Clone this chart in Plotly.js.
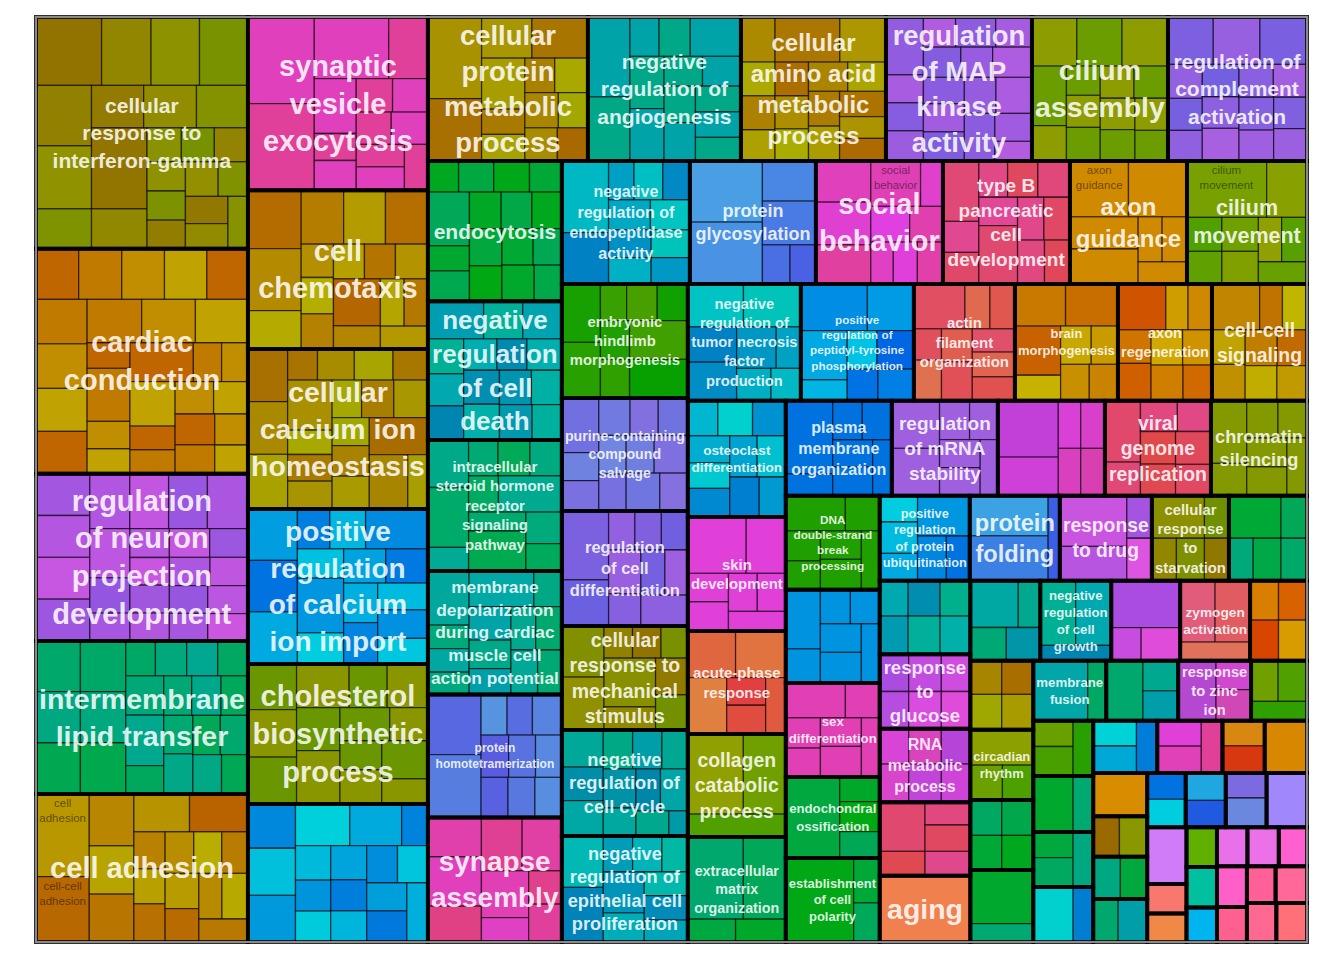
<!DOCTYPE html>
<html>
<head>
<meta charset="utf-8">
<script src="https://cdn.plot.ly/plotly-3.0.1.min.js"></script>
<style>html,body{margin:0;padding:0;background:#fff}#chart{width:1344px;height:960px}</style>
</head>
<body>
<div id="chart"></div>
<script>
// ---------- DATA ----------
const parentTerms = [
"cellular<br>response to<br>interferon-gamma","cardiac<br>conduction","regulation<br>of neuron<br>projection<br>development","intermembrane<br>lipid transfer","cell adhesion",
"synaptic<br>vesicle<br>exocytosis","cell<br>chemotaxis","cellular<br>calcium ion<br>homeostasis","positive<br>regulation<br>of calcium<br>ion import","cholesterol<br>biosynthetic<br>process","",
"cellular<br>protein<br>metabolic<br>process","negative<br>regulation of<br>angiogenesis","cellular<br>amino acid<br>metabolic<br>process","regulation<br>of MAP<br>kinase<br>activity","cilium<br>assembly","regulation of<br>complement<br>activation",
"endocytosis","negative<br>regulation<br>of cell<br>death","intracellular<br>steroid hormone<br>receptor<br>signaling<br>pathway","membrane<br>depolarization<br>during cardiac<br>muscle cell<br>action potential","protein<br>homotetramerization","synapse<br>assembly",
"negative<br>regulation of<br>endopeptidase<br>activity","protein<br>glycosylation","social<br>behavior","type B<br>pancreatic<br>cell<br>development","axon<br>guidance","cilium<br>movement",
"embryonic<br>hindlimb<br>morphogenesis","purine-containing<br>compound<br>salvage","regulation<br>of cell<br>differentiation","cellular<br>response to<br>mechanical<br>stimulus","negative<br>regulation of<br>cell cycle","negative<br>regulation of<br>epithelial cell<br>proliferation",
"negative<br>regulation of<br>tumor necrosis<br>factor<br>production","positive<br>regulation of<br>peptidyl-tyrosine<br>phosphorylation","actin<br>filament<br>organization","brain<br>morphogenesis","axon<br>regeneration","cell-cell<br>signaling",
"osteoclast<br>differentiation","skin<br>development","acute-phase<br>response","collagen<br>catabolic<br>process","extracellular<br>matrix<br>organization",
"plasma<br>membrane<br>organization","regulation<br>of mRNA<br>stability","","viral<br>genome<br>replication","chromatin<br>silencing",
"DNA<br>double-strand<br>break<br>processing","","sex<br>differentiation","endochondral<br>ossification","establishment<br>of cell<br>polarity",
"positive<br>regulation<br>of protein<br>ubiquitination","protein<br>folding","response<br>to drug","cellular<br>response<br>to<br>starvation","",
"","response<br>to<br>glucose","RNA<br>metabolic<br>process","","aging",
"","negative<br>regulation<br>of cell<br>growth","","zymogen<br>activation","",
"","circadian<br>rhythm","","",
"membrane<br>fusion","","response<br>to zinc<br>ion","",
"","","","",
"","","","","",
"","","",
"","","",
"","","",
"","","",
"","","",
"","",
"","",
"","",""
];

const parentScores = [
49120,47700,35468,32436,31376,
31194,28566,28800,27900,25200,24840,
23040,22032,20880,21024,19584,20016,
18800,18586,17554,16549,16482,16683,
15744,15498,15621,15621,14391,14760,
14364,14238,14490,13104,13356,13356,
13221,13221,11817,12051,10998,11115,
11368,11172,10094,10094,10290,
10070,10070,10165,10070,9120,
8836,8742,8836,7614,7896,
7650,7650,7820,6545,6630,
6660,6750,6660,6660,6000,
5600,5680,5520,5600,4560,
4347,4410,4410,4536,
4380,4320,4380,3360,
3300,3360,3300,3300,
3339,3402,2205,2205,2331,
2193,2279,2322,
2091,2173,2214,
2193,2236,1161,
1116,1209,1240,
1050,1190,1225,
1102,1218,
1050,1050,
1150,1150,1200
];

const termScores = [
[4355,3283,3216,3216,3262,3393,2145,2155,2180,2126,4363,2145,1133,1089,1110,1082,1087,1063,1094,996,1123,1038,1014],
[2115,2135,2115,2100,2035,2216,2231,2145,2114,2307,2272,2223,1072,2221,1141,1044,2411,1075,1002,1957,1050,1050,1214,1084,1200,1113,1004,930],
[2222,2222,2222,2222,2169,2104,2104,2200,1949,1395,1105,1122,1076,1087,1087,1142,1084,1132,1056,1050,1050,1109,1088],
[2170,2200,2200,2220,2250,2250,997,1054,1043,1020,1444,1847,1044,1072,1122,1033,1080,1131,1041,1044,1093,1006],
[4323,3415,2274,2113,2095,2069,2174,1131,1076,1166,1166,1140,1064,1163,1108,1033,1163,1108],
[5330,5330,4250,2236,2140,1050,1160,1130,1100,1050,1100,1000,1050,1000],
[3037,3233,1998,2239,2202,2239,1050,1145,1110,1050,1050,1100,2160,1060,1100,1100,1060],
[2025,2025,2100,900,1110,1166,1050,2160,1050,1150,1200,1070,1170,1240,1010,1100,1180,2100,2030,1060],
[2080,2080,2112,1056,1166,2030,1112,2065,1180,1180,1180,1100,1155,1100,1180,1050],
[2010,2100,2070,2078,1505,1610,1700,2100,1500,1150,1100,1300,1600,1050],
[2022,2148,2134,2170,2070,1050,1170,1047,1047,1188,1074,1074,1100,1086,1086,1200,1200],
[4222,3222,2000,2222,2125,1050,1108,991,1100,1133,1000,1038,977],
[3077,2470,1050,1125,1827,1635,1635,1050,1050,1050,1100,1070,1070,980],
[1477,1110,1110,1023,2806,1995,1089,1057,1034,1105,1074,1043,1039,1125,975,1005],
[2092,1010,1010,1083,935,1167,1053,1089,926,1144,1050,1100,1150,1100,1250,1400,1000,700],
[2125,2140,2174,1980,1173,953,1046,1095,1046,1055,1048,1048,1020,977],
[2053,2117,2132,1110,1056,1000,1133,1110,1144,1077,1055,1087,1020,1000,1030],
[900,1030,1050,950,2100,977,1190,1088,1055,1029,1138,1085,1071,987,1100,944],
[1993,1400,1400,1200,1090,1160,1000,900,1050,1160,1220,1050,1000,1100,1000],
[1827,2304,907,1000,1084,1084,1022,2172,1022,2167,1068,933],
[2062,900,900,850,2135,926,1300,1100,1000,1000,1050,1100,1000],
[3033,3172,1000,975,1133,1105,1077,1057,1027,1027,1027],
[1993,2512,1820,2067,2015,2100,1095,1050,1192],
[3053,2180,906,1020,963,1140,1077,1080,1020,983,928],
[4083,4130,1980,2155,996,933],
[2095,2169,1988,2091,940,1284,1100,870,933,991],
[2022,1040,1053,970,1022,1084,1022,2100,1050,1040,1100,1040],
[3022,3022,2027,2200,1000,1036,992],
[4117,2083,1083,1039,1133,1085,943,1027,985],
[2100,2000,900,1050,1050,1050,1050,2100,2100],
[1911,978,1056,1110,1000,1050,1000,950,1000,1200,1200,1000],
[3117,2081,995,1000,1000,1373,1000,1050,1000,1400],
[2000,2067,850,850,800,2333,1100,1100,1050],
[1400,1267,1333,1039,1039,917,1167,833,939,1050,750,433],
[2000,2133,991,991,875,1575,1125,975,1000,900],
[2185,2255,1575,1725,1500,933,1022,889],
[2860,2000,2100,890,1050,1300,900,1050],
[2250,1100,1100,850,1100,1000,1180,972,1042,1000],
[1980,2050,2083,1085,1085,946,971,971],
[2025,940,1010,1020,1140,1020,950,1050,950],
[2070,990,1065,1080,1140,1080,1000,1055,1000],
[963,1111,1065,1027,983,1088,1025,1073,1073,966],
[2970,2016,1039,1067,990,979,1005],
[2025,2130,1993,979,1016,1032],
[3975,3040,2003],
[4095,3133,976,1027],
[3117,933,1050,1050,975,1050,975],
[2025,2025,1039,979,1022,1022,889],
[3110,2140,975,1050,975,1050],
[1995,1100,1039,945,1050,1022,1067,1022],
[2025,1050,1050,975,1050,1050,1050],
[1878,1083,939,900,1050,1125,975],
[1878,1083,939,920,1073,1150,997],
[1878,1083,939,900,1050,1125,975],
[3962,894,1085,958],
[5092,1044,913],
[875,1050,910,1852,1138,925],
[3000,3367,951],
[2980,2017,933,933],
[2000,933,933,1067,933],
[2000,1000,933,1067,1000],
[889,960,1000,944,1080,1020],
[933,933,1050,933,1050,933],
[889,960,1000,889,1080,960],
[1946,972,903,1042,972],
[6000],
[2100,960,1120,1056],
[2000,2000,953],
[3060,940,1222],
[2000,2000,1222],
[978,978,1006,1006],
[950,950,1000,1000],
[2000,1000,960],
[990,990,960,960],
[3000,1020],
[2966,1003],
[1980,947,946],
[2042,907,977],
[958,1022,946],
[878,1006,950],
[1911,963],
[878,1006,950],
[1949,982],
[909,975,903],
[948,1002,935],
[877,950],
[2205],[2331],
[870,920],[932,920],[855,996],
[832,880],[892,880],[818,954],
[2193],[2236],[1161],
[1116],[1209],[1240],
[1050],[1190],[1225],
[1102],[1218],
[1050],[1050],
[1150],[1150],[1200]
];

// terms whose own labels are visible in the picture: [group, term, name]
const namedTerms = [
  [4, 0, "cell adhesion"], [4, 1, "cell-cell adhesion"],
  [25, 3, "social behavior"], [27, 0, "axon guidance"], [28, 0, "cilium movement"]
];

// ---------- STYLE ----------
const groupColors = [
'#929000','#C08400','#B056E0','#00A870','#B88800',
'#E040A0','#B48A00','#A88E00','#00A0E0','#889600','#00A4DC',
'#A88C00','#00A8A4','#AC8C00','#9A5CE0','#7C9C00','#8C60E0',
'#00A836','#00A8B0','#00AA72','#00A890','#5878E0','#E040A4',
'#00A8C4','#4A80E4','#E040C0','#E04878','#D07C00','#70A000',
'#28A000','#7070E0','#8460E0','#909000','#00A8A8','#00A8B8',
'#00A8C4','#0094E4','#E05450','#C88A00','#D07E00','#C09000',
'#00A8D0','#E040B8','#E06040','#70A000','#00A84C',
'#0090E0','#B060E0','#D840D0','#E04868','#849800',
'#40A000','#0084E0','#E040C8','#00A834','#00A838',
'#00A0E0','#3C80E4','#C054E0','#8C9000','#00A858',
'#00B0B0','#C84CE0','#D444D8','#E04870','#F0804E',
'#00A898','#00A8B0','#C84CE0','#E05C60','#D87000',
'#A89000','#6CA000','#00A840','#00A850',
'#00A888','#00A890','#D048D0','#50A000',
'#48A000','#00A850','#00A860','#00A8D0',
'#00A8D8','#E040B8','#D86010','#D88800','#D88C00',
'#988800','#00A860','#00A890',
'#00A0E0','#2080E0','#6A70E0',
'#A088FC','#D07CF8','#F87870',
'#F08848','#60B000','#00C0A0',
'#00B4F0','#E870E8','#EC70E8',
'#FF60D0','#FF60C8',
'#FF6090','#FF6098',
'#FF6898','#FF6890','#FF7078'
];

const labelSizes = [
21,29,29,29,29,
29,29,29,28,29,12,
27.5,21,24,27.5,28.5,21,
21,26,15,18,12,28,
16,18,29,19,24,21.5,
14.8,14.4,16.5,19.6,18.3,18.2,
14.7,11.7,15,13,15,19.4,
13.6,15,15,19.4,14.3,
16,19,12,19.4,18.2,
11.8,12,13.6,13.2,13,
13,23.6,19.3,15.5,12,
12,19.3,16,12,28.5,
12,13.2,12,14.4,12,
12,13.2,12,12,
13.4,12,14.8,12
];
while (labelSizes.length < parentTerms.length) labelSizes.push(12);

function hexToHsl(hex){
  const r=parseInt(hex.substr(1,2),16)/255, g=parseInt(hex.substr(3,2),16)/255, b=parseInt(hex.substr(5,2),16)/255;
  const mx=Math.max(r,g,b), mn=Math.min(r,g,b); let h=0,s=0; const l=(mx+mn)/2;
  if(mx!==mn){ const d=mx-mn; s=l>0.5? d/(2-mx-mn) : d/(mx+mn);
    if(mx===r) h=(g-b)/d+(g<b?6:0); else if(mx===g) h=(b-r)/d+2; else h=(r-g)/d+4; h*=60; }
  return [h,s,l];
}
function hslToHex(h,s,l){
  h=((h%360)+360)%360;
  const c=(1-Math.abs(2*l-1))*s, x=c*(1-Math.abs((h/60)%2-1)), m=l-c/2; let r,g,b;
  if(h<60)[r,g,b]=[c,x,0]; else if(h<120)[r,g,b]=[x,c,0]; else if(h<180)[r,g,b]=[0,c,x];
  else if(h<240)[r,g,b]=[0,x,c]; else if(h<300)[r,g,b]=[x,0,c]; else [r,g,b]=[c,0,x];
  const f=v=>Math.max(0,Math.min(255,Math.round((v+m)*255))).toString(16).padStart(2,'0');
  return '#'+f(r)+f(g)+f(b);
}
function termColor(hex,i,n,g){
  if(n<2) return hex;
  const [h,s,l]=hexToHsl(hex);
  const order=(i*7+g*3)%n;
  const off=(order/(n-1)-0.5)*24;
  return hslToHex(h+off,s,l);
}

// ---------- BUILD ----------
const ids=[], labels=[], parents=[], values=[], colors=[], texts=[];
const gIds=[], gVals=[];
parentTerms.forEach((name,g)=>{
  const gid='g'+g;
  const kids=termScores[g];
  const tot=kids.reduce((a,b)=>a+b,0);
  ids.push(gid); labels.push(name.replace(/<br>/g,' ')||' '); parents.push(''); values.push(0);
  colors.push(groupColors[g]); texts.push('');
  let gsum=0;
  kids.forEach((v,i)=>{
    const val=v*parentScores[g]/tot; gsum+=val;
    const nm=namedTerms.find(t=>t[0]===g&&t[1]===i);
    ids.push(gid+'-'+i); labels.push(nm?nm[2]:' '); parents.push(gid); values.push(val);
    colors.push(termColor(groupColors[g],i,kids.length,g));
    texts.push(nm?nm[2].replace(' ','<br>'):'');
  });
  gIds.push(gid); gVals.push(gsum);
});

const common = {
  type:'treemap', sort:false,
  tiling:{packing:'squarify', squarifyratio:1.06, pad:0},
  pathbar:{visible:false},
  leaf:{opacity:1},
  root:{color:'rgba(0,0,0,0)'},
  hoverinfo:'none'
};

const termsTrace = Object.assign({}, common, {
  ids, labels, parents, values, branchvalues:'remainder',
  text: texts, textinfo:'text', textposition:'top center',
  textfont:{family:'Liberation Sans, Arial, sans-serif', size:11.5, color:'rgba(0,0,0,0.5)'},
  marker:{colors, line:{color:'rgba(0,0,0,0.6)', width:1.3}, pad:{t:0,l:0,r:0,b:0}, depthfade:false}
});

const groupTrace = Object.assign({}, common, {
  ids:gIds, labels:parentTerms, parents:gIds.map(()=>''), values:gVals, branchvalues:'total',
  textinfo:'label', textposition:'middle center',
  textfont:{family:'Liberation Sans, Arial, sans-serif', size:labelSizes, color:'rgba(255,255,255,0.87)', weight:700},
  marker:{colors:gIds.map(()=> 'rgba(0,0,0,0)'), line:{color:'rgba(0,0,0,0.82)', width:4}, pad:{t:0,l:0,r:0,b:0}, depthfade:false}
});

const layout = {
  width:1344, height:960,
  margin:{l:36, r:37, t:17, b:18},
  paper_bgcolor:'#ffffff',
  showlegend:false,
  shapes:[{type:'rect', xref:'paper', yref:'paper', x0:0, x1:1, y0:0, y1:1,
           line:{color:'#8a8a8a', width:2}, fillcolor:'rgba(0,0,0,0)', layer:'above'}]
};

Plotly.newPlot('chart', [termsTrace, groupTrace], layout, {displayModeBar:false, staticPlot:true});
</script>
</body>
</html>
